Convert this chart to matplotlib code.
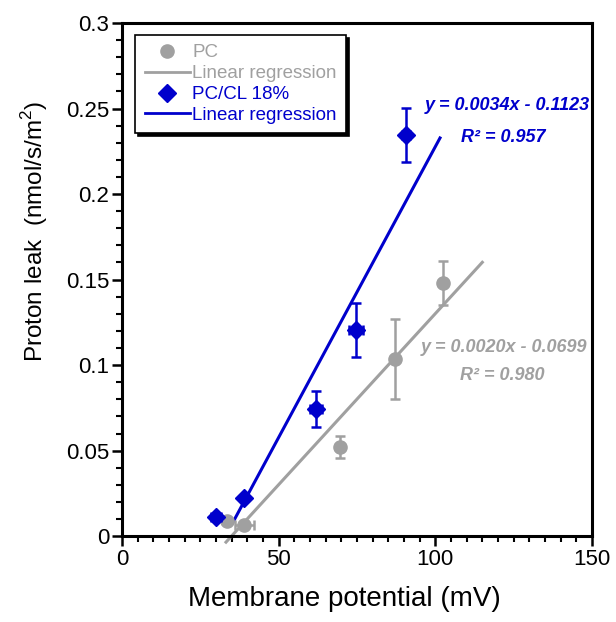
import numpy as np
import matplotlib
matplotlib.use('Agg')
from matplotlib import pyplot as plt
from matplotlib.ticker import MultipleLocator

plt.rcParams['font.family'] = ['Liberation Sans', 'DejaVu Sans']
plt.rcParams['mathtext.fontset'] = 'custom'
plt.rcParams['mathtext.rm'] = 'Liberation Sans'

# PC
pc_x = [33.5, 39.0, 69.6, 87.0, 102.6]
pc_y = [0.009, 0.0065, 0.052, 0.1035, 0.148]
pc_xerr = [0.0, 3.0, 0.0, 0.0, 0.0]
pc_yerr = [0.0, 0.0, 0.0063, 0.0232, 0.013]
pc_fit = (0.0020, -0.0699)
pc_range = [33.2, 115.0]

# PC/CL 18%
cl_x = [30.0, 39.0, 61.9, 74.7, 90.7]
cl_y = [0.0113, 0.0225, 0.0743, 0.1205, 0.2345]
cl_xerr = [1.5, 0.8, 1.8, 2.2, 1.2]
cl_yerr = [0.0, 0.0, 0.0107, 0.016, 0.016]
cl_fit = (0.0034, -0.1123)
cl_range = [35.3, 101.5]

grey = '#a0a0a0'
blue = '#0000cc'

W, H = 616, 622
fig = plt.figure(figsize=(W/100, H/100), dpi=100)
ax = fig.add_axes([0.198, 0.138, 0.763, 0.825])

xx = np.array(pc_range)
ax.plot(xx, pc_fit[0]*xx + pc_fit[1], color=grey, lw=2.2, clip_on=False, zorder=2)
ax.errorbar(pc_x, pc_y, xerr=pc_xerr, yerr=pc_yerr, fmt='o', color=grey, ms=9.5,
            elinewidth=1.8, capsize=3.5, capthick=1.8, zorder=3, clip_on=False)
xx = np.array(cl_range)
ax.plot(xx, cl_fit[0]*xx + cl_fit[1], color=blue, lw=2.2, zorder=2)
ax.errorbar(cl_x, cl_y, xerr=cl_xerr, yerr=cl_yerr, fmt='D', color=blue, ms=9.5,
            elinewidth=1.8, capsize=3.5, capthick=1.8, zorder=4, clip_on=False)

# legend handles
h1, = ax.plot([], [], 'o', color=grey, ms=9.5)
h2, = ax.plot([], [], '-', color=grey, lw=2)
h3, = ax.plot([], [], 'D', color=blue, ms=9)
h4, = ax.plot([], [], '-', color=blue, lw=2)
leg = ax.legend([h1, h2, h3, h4], ['PC', 'Linear regression', 'PC/CL 18%', 'Linear regression'],
                loc='upper left', bbox_to_anchor=(0.028, 0.977), fontsize=13.5,
                labelspacing=0.2, handlelength=2.4, handletextpad=0.15, borderpad=0.5,
                borderaxespad=0, fancybox=False, shadow={'color': 'black', 'alpha': 1.0},
                edgecolor='black', framealpha=1)
leg.get_frame().set_linewidth(1.2)
for t, c in zip(leg.get_texts(), [grey, grey, blue, blue]):
    t.set_color(c)

def label(x, y, s, c, ha):
    fig.text(x/W, 1 - y/H, s, color=c, fontsize=13, fontweight='bold',
             fontstyle='italic', ha=ha, va='center')

label(590, 105, 'y = 0.0034x - 0.1123', blue, 'right')
label(503, 137, 'R² = 0.957', blue, 'center')
label(587, 347, 'y = 0.0020x - 0.0699', grey, 'right')
label(502, 376, 'R² = 0.980', grey, 'center')

ax.set_xlim(0, 150)
ax.set_ylim(0, 0.3)
ax.xaxis.set_major_locator(MultipleLocator(50))
ax.xaxis.set_minor_locator(MultipleLocator(5))
ax.yaxis.set_minor_locator(MultipleLocator(0.01))
ax.set_yticks([0, 0.05, 0.1, 0.15, 0.2, 0.25, 0.3])
ax.set_yticklabels(['0', '0.05', '0.1', '0.15', '0.2', '0.25', '0.3'])
ax.tick_params(which='major', direction='out', length=7, width=1.8, labelsize=16, pad=2)
ax.tick_params(which='minor', direction='out', length=4, width=1.5)
for s in ax.spines.values():
    s.set_linewidth(2.2)

ax.set_xlabel('Membrane potential (mV)', fontsize=20)
ax.set_ylabel('Proton leak  (nmol/s/m$^2$)', fontsize=17.5)
ax.xaxis.set_label_coords(0.473, -0.098)
ax.yaxis.set_label_coords(-0.153, 0.595)

fig.savefig('out.png', dpi=100)
